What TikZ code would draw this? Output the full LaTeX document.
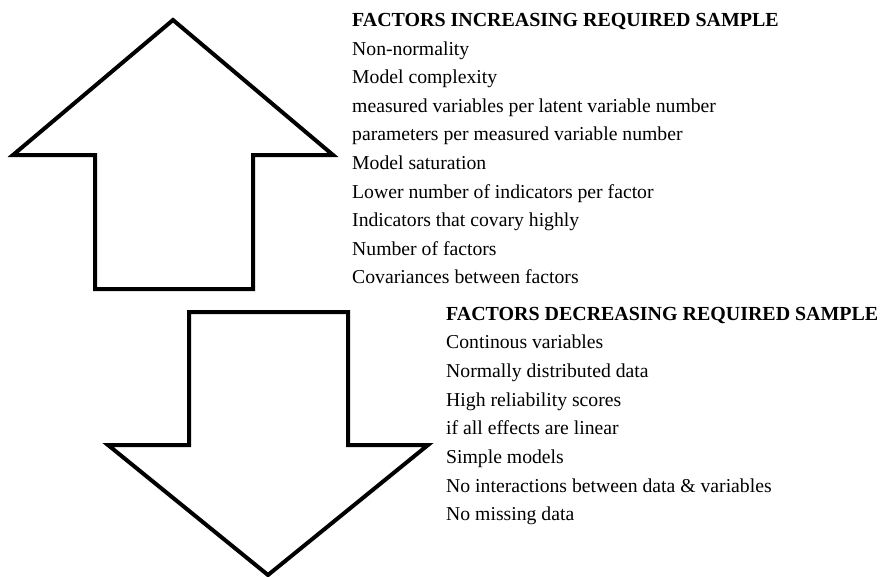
\documentclass[tikz,border=0pt]{standalone}
\usepackage{fontspec}
\setmainfont{Liberation Serif}
\begin{document}
\begin{tikzpicture}[x=1pt,y=-1pt,
  bigarrow/.style={draw=black, line width=4pt, line join=miter, fill=white},
  itemtext/.style={anchor=base west, inner sep=0pt, font=\fontsize{19.7}{24}\selectfont},
  headtext/.style={anchor=base west, inner sep=0pt, font=\fontsize{19.95}{24}\selectfont\bfseries}]
\useasboundingbox (0,0) rectangle (882,576);
\clip (0,0) rectangle (882,576);
% up arrow
\draw[bigarrow] (173,20) -- (333,155) -- (253,155) -- (253,289) -- (95,289) -- (95,155) -- (13,155) -- cycle;
% down arrow
\draw[bigarrow] (189,312) -- (348,312) -- (348,445) -- (428,445) -- (268,575) -- (108,445) -- (189,445) -- cycle;
% increasing block
\node[headtext] (h1) at (352,26.5) {FACTORS INCREASING REQUIRED SAMPLE};
\foreach \t [count=\i] in {Non-normality, Model complexity, measured variables per latent variable number, parameters per measured variable number, Model saturation, Lower number of indicators per factor, Indicators that covary highly, Number of factors, Covariances between factors}
  \node[itemtext] (inc\i) at (352,26.5+28.6*\i) {\t};
% decreasing block
\node[headtext] (h2) at (446,320) {FACTORS DECREASING REQUIRED SAMPLE};
\foreach \t [count=\i] in {Continous variables, Normally distributed data, High reliability scores, if all effects are linear, Simple models, No interactions between data \& variables, No missing data}
  \node[itemtext] (dec\i) at (446,320+28.7*\i) {\t};
\end{tikzpicture}
\end{document}
